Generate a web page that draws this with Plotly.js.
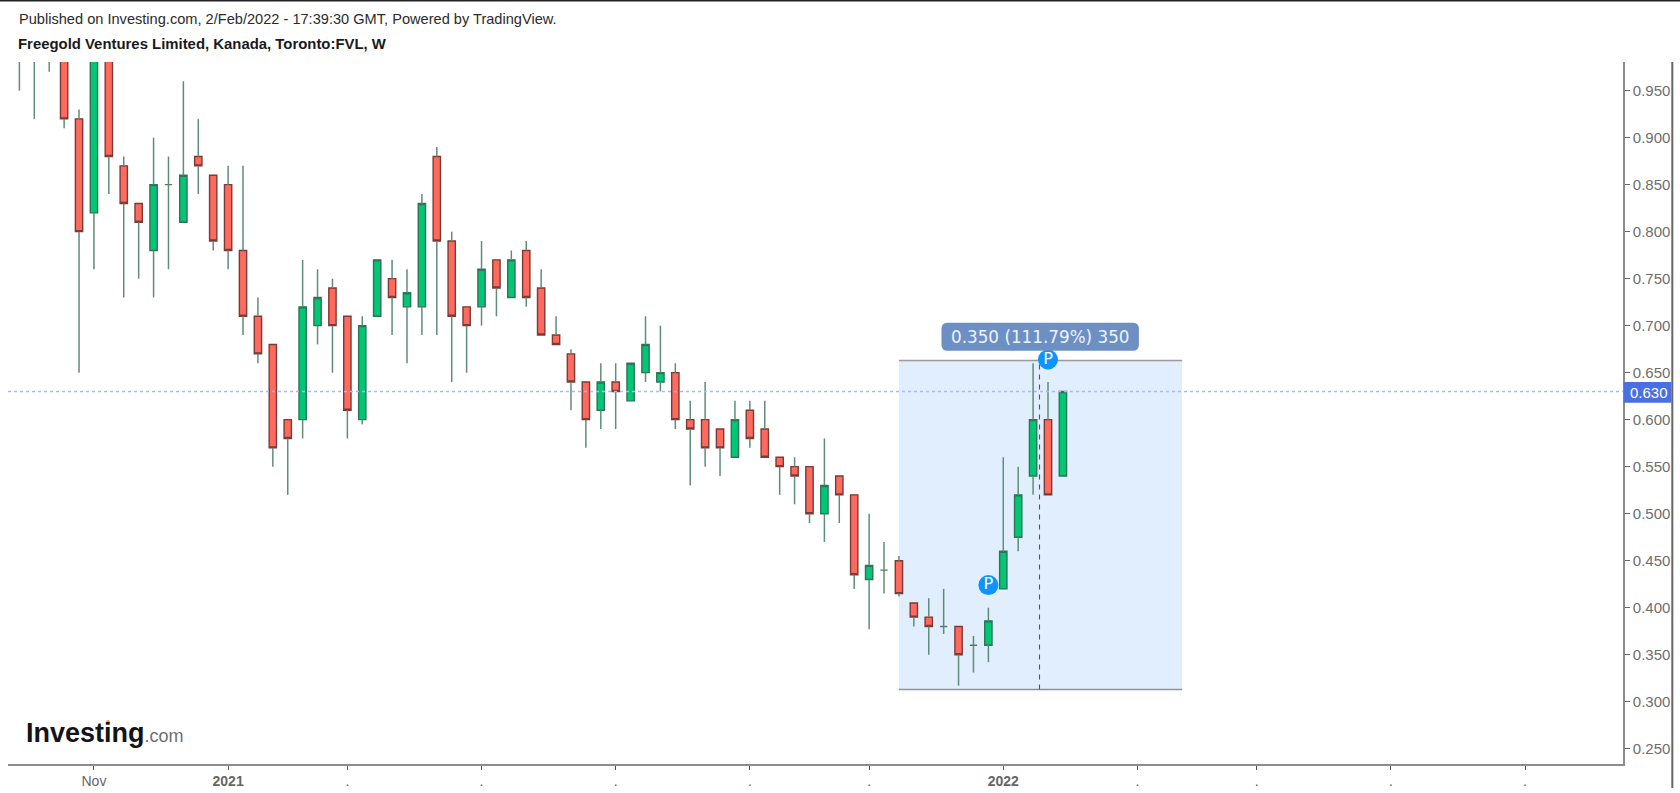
<!DOCTYPE html>
<html>
<head>
<meta charset="utf-8">
<script src="https://cdn.plot.ly/plotly-3.0.1.min.js"></script>
<style>html,body{margin:0;padding:0;background:#fff}#chart{width:1680px;height:793px}</style>
</head>
<body>
<div id="chart"></div>
<script>
const weeks = ["2020-09-28","2020-10-05","2020-10-12","2020-10-19","2020-10-26","2020-11-02","2020-11-09","2020-11-16","2020-11-23","2020-11-30",
"2020-12-07","2020-12-14","2020-12-21","2020-12-28","2021-01-04","2021-01-11","2021-01-18","2021-01-25","2021-02-01","2021-02-08",
"2021-02-15","2021-02-22","2021-03-01","2021-03-08","2021-03-15","2021-03-22","2021-03-29","2021-04-05","2021-04-12","2021-04-19",
"2021-04-26","2021-05-03","2021-05-10","2021-05-17","2021-05-24","2021-05-31","2021-06-07","2021-06-14","2021-06-21","2021-06-28",
"2021-07-05","2021-07-12","2021-07-19","2021-07-26","2021-08-02","2021-08-09","2021-08-16","2021-08-23","2021-08-30","2021-09-06",
"2021-09-13","2021-09-20","2021-09-27","2021-10-04","2021-10-11","2021-10-18","2021-10-25","2021-11-01","2021-11-08","2021-11-15",
"2021-11-22","2021-11-29","2021-12-06","2021-12-13","2021-12-20","2021-12-27","2022-01-03","2022-01-10","2022-01-17","2022-01-24","2022-01-31"];
const open = [1.03,1.04,1.02,1.02,0.92,0.82,1.02,0.87,0.83,0.78,0.85,0.81,0.88,0.86,0.85,0.78,0.71,0.68,0.60,0.60,0.70,0.74,0.71,0.60,0.71,0.75,0.72,0.72,0.88,0.79,0.72,0.72,0.77,0.73,0.78,0.74,0.69,0.67,0.64,0.61,0.64,0.62,0.65,0.64,0.65,0.60,0.60,0.59,0.56,0.61,0.59,0.56,0.55,0.55,0.50,0.54,0.52,0.43,0.44,0.45,0.405,0.39,0.38,0.38,0.36,0.36,0.42,0.475,0.54,0.60,0.54];
const close = [1.02,1.05,1.01,0.92,0.80,1.02,0.88,0.83,0.81,0.85,0.85,0.86,0.87,0.79,0.78,0.71,0.67,0.57,0.58,0.72,0.73,0.70,0.61,0.70,0.77,0.73,0.735,0.83,0.79,0.71,0.70,0.76,0.74,0.77,0.73,0.69,0.68,0.64,0.60,0.64,0.63,0.66,0.68,0.65,0.60,0.59,0.57,0.57,0.60,0.58,0.56,0.55,0.54,0.50,0.53,0.52,0.435,0.445,0.44,0.415,0.39,0.38,0.38,0.35,0.36,0.386,0.46,0.52,0.60,0.52,0.63];
const high = [1.06,1.07,1.05,1.04,0.93,1.04,1.04,0.88,0.83,0.90,0.88,0.96,0.92,0.86,0.87,0.87,0.73,0.68,0.60,0.77,0.76,0.75,0.71,0.71,0.77,0.77,0.76,0.84,0.89,0.80,0.72,0.79,0.77,0.78,0.79,0.76,0.71,0.675,0.64,0.66,0.66,0.66,0.71,0.70,0.66,0.62,0.64,0.59,0.62,0.62,0.62,0.56,0.56,0.55,0.58,0.54,0.52,0.50,0.47,0.455,0.405,0.41,0.42,0.38,0.37,0.40,0.56,0.55,0.66,0.64,0.63];
const low = [0.95,0.92,0.97,0.91,0.65,0.76,0.84,0.73,0.75,0.73,0.76,0.81,0.84,0.78,0.76,0.69,0.66,0.55,0.52,0.58,0.68,0.65,0.58,0.595,0.71,0.69,0.66,0.69,0.69,0.64,0.65,0.70,0.71,0.73,0.72,0.69,0.68,0.61,0.57,0.59,0.59,0.62,0.64,0.63,0.59,0.53,0.55,0.54,0.56,0.57,0.56,0.52,0.51,0.49,0.47,0.49,0.42,0.377,0.415,0.412,0.38,0.35,0.372,0.317,0.331,0.342,0.42,0.46,0.52,0.52,0.54];
const tickDates = ["2020-11-02","2021-01-04","2021-03-01","2021-05-03","2021-07-05","2021-09-06","2021-11-01","2022-01-03","2022-03-07","2022-05-02","2022-07-04","2022-09-05"];
const tickLabels = ["Nov","<b>2021</b>",".",".",".",".",".","<b>2022</b>",".",".",".","."];
const priceTicks = [0.25,0.30,0.35,0.40,0.45,0.50,0.55,0.60,0.65,0.70,0.75,0.80,0.85,0.90,0.95];
const lastPrice = 0.63;
const rangeLow = 0.313, rangeHigh = 0.663;
const rangeStart = "2021-11-15", rangeEnd = "2022-03-28", rangeMid = "2022-01-20";
const pivotDates = ["2021-12-27","2022-01-24"];
const pivotPrices = [0.424,0.664];
const rangeLabel = "0.350 (111.79%) 350";

const L=8,R=1622.7,T=62,B=764;
const px = x => (x-L)/(R-L), py = y => (B-y)/(B-T);

const wx=[],wy=[];
weeks.forEach((d,i)=>{
  const top=Math.max(open[i],close[i]),bot=Math.min(open[i],close[i]);
  if(high[i]>top){wx.push(d,d,null);wy.push(top,high[i],null);}
  if(low[i]<bot){wx.push(d,d,null);wy.push(low[i],bot,null);}
});
const idxBody=weeks.map((_,i)=>i).filter(i=>open[i]!==close[i]);
const idxDoji=weeks.map((_,i)=>i).filter(i=>open[i]===close[i]);
const pick=(a,idx)=>idx.map(i=>a[i]);
const bodyWidth=330000000;
const bodyTrace=(idx,up,down)=>({
  type:'candlestick',x:pick(weeks,idx),open:pick(open,idx),close:pick(close,idx),
  high:idx.map(i=>Math.max(open[i],close[i])),low:idx.map(i=>Math.min(open[i],close[i])),
  width:bodyWidth,whiskerwidth:0,showlegend:false,hoverinfo:'skip',
  increasing:{line:{color:up[0],width:1.4},fillcolor:up[1]},
  decreasing:{line:{color:down[0],width:1.4},fillcolor:down[1]}
});
const data=[
  {type:'scatter',mode:'lines',x:wx,y:wy,line:{color:'#5f8d7a',width:1.5},showlegend:false,hoverinfo:'skip',cliponaxis:true},
  bodyTrace(idxBody,['#2f7358','#00c774'],['#7c3a36','#ff6a5f']),
  bodyTrace(idxDoji,['#4d7d69','#4d7d69'],['#4d7d69','#4d7d69']),
  {type:'scatter',mode:'markers+text',x:pivotDates,y:pivotPrices,text:['P','P'],textposition:'middle center',
   textfont:{family:'DejaVu Sans, sans-serif',size:16,color:'#ffffff'},
   marker:{size:20,color:'#0f94fb',line:{width:0}},showlegend:false,hoverinfo:'skip'}
];
const greyAxis='#8c8c8c';
const layout={
  width:1680,height:793,margin:{l:L,r:1680-R,t:T,b:793-B,pad:0},
  paper_bgcolor:'#ffffff',plot_bgcolor:'#ffffff',showlegend:false,dragmode:false,
  font:{family:'Liberation Sans, Arial, sans-serif',color:'#6b6b6b',size:14},
  xaxis:{type:'date',range:["2020-09-22 15:30","2022-10-21"],rangeslider:{visible:false},
    tickmode:'array',tickvals:tickDates,ticktext:tickLabels,ticks:'outside',ticklen:4,tickwidth:1,tickcolor:'#555',
    tickfont:{size:14,color:'#666'},showgrid:false,zeroline:false,showline:true,linecolor:greyAxis,linewidth:1.6},
  yaxis:{side:'right',range:[0.2337,0.9805],tickmode:'array',tickvals:priceTicks,tickformat:'.3f',ticks:'outside',ticklen:5,tickwidth:1,tickcolor:'#666',
    tickfont:{size:15,color:'#6e6e6e'},showgrid:false,zeroline:false,showline:true,linecolor:greyAxis,linewidth:1.8},
  shapes:[
    {type:'rect',layer:'below',x0:rangeStart,x1:rangeEnd,y0:rangeLow,y1:rangeHigh,xref:'x',yref:'y',fillcolor:'#e1eefd',line:{width:0}},
    {type:'line',layer:'below',x0:rangeStart,x1:rangeEnd,y0:rangeHigh,y1:rangeHigh,xref:'x',yref:'y',line:{color:'#9a9a9a',width:1.6}},
    {type:'line',layer:'below',x0:rangeStart,x1:rangeEnd,y0:rangeLow,y1:rangeLow,xref:'x',yref:'y',line:{color:'#8f9296',width:1.6}},
    {type:'line',layer:'below',x0:rangeMid,x1:rangeMid,y0:rangeLow,y1:rangeHigh,xref:'x',yref:'y',line:{color:'#55585c',width:1.1,dash:'5px,5px'}},
    {type:'line',layer:'above',x0:0,x1:1,xref:'paper',y0:lastPrice,y1:lastPrice,yref:'y',line:{color:'#a9b9f7',width:1.5,dash:'dot'}},
    {type:'path',xref:'paper',yref:'paper',layer:'above',fillcolor:'#6d90c4',line:{width:0},
     path:(()=>{const x0=941.3,x1=1138.7,y0=322.7,y1=350.7,r=6;const X=v=>px(v),Y=v=>py(v);
       return `M${X(x0+r)},${Y(y0)} L${X(x1-r)},${Y(y0)} Q${X(x1)},${Y(y0)} ${X(x1)},${Y(y0+r)} L${X(x1)},${Y(y1-r)} Q${X(x1)},${Y(y1)} ${X(x1-r)},${Y(y1)} L${X(x0+r)},${Y(y1)} Q${X(x0)},${Y(y1)} ${X(x0)},${Y(y1-r)} L${X(x0)},${Y(y0+r)} Q${X(x0)},${Y(y0)} ${X(x0+r)},${Y(y0)} Z`;})()},
    {type:'rect',xref:'paper',yref:'paper',layer:'above',x0:px(1623.4),x1:px(1671),y0:py(382),y1:py(402.7),fillcolor:'#4a6fe3',line:{width:0}},
    {type:'line',xref:'paper',yref:'paper',layer:'above',x0:px(1672),x1:px(1672),y0:py(62),y1:py(788),line:{color:'#666666',width:2}},
    {type:'line',xref:'paper',yref:'paper',layer:'above',x0:px(0),x1:px(1680),y0:py(0.8),y1:py(0.8),line:{color:'#222222',width:1.6}},
    {type:'circle',xref:'paper',yref:'paper',layer:'above',x0:px(106),x1:px(110),y0:py(720),y1:py(724),fillcolor:'#f7a21b',line:{width:0}}
  ],
  annotations:[
    {xref:'paper',yref:'paper',x:px(16.5),y:py(19),xanchor:'left',yanchor:'middle',showarrow:false,align:'left',
     text:"Published on Investing.com, 2/Feb/2022 - 17:39:30 GMT, Powered by TradingView.",font:{size:14.6,color:'#2b2b2b'}},
    {xref:'paper',yref:'paper',x:px(16),y:py(44),xanchor:'left',yanchor:'middle',showarrow:false,align:'left',
     text:"<b>Freegold Ventures Limited, Kanada, Toronto:FVL, W</b>",font:{size:14.9,color:'#1a1a1a'}},
    {xref:'paper',yref:'paper',x:px(1040),y:py(336.5),xanchor:'center',yanchor:'middle',showarrow:false,
     text:rangeLabel,font:{family:'DejaVu Sans, sans-serif',size:16.8,color:'#eef3fb'}},
    {xref:'paper',yref:'paper',x:px(1669.5),y:py(392.6),xanchor:'right',yanchor:'middle',showarrow:false,
     text:lastPrice.toFixed(3),font:{size:15,color:'#ffffff'}},
    {xref:'paper',yref:'paper',x:px(24),y:py(732.5),xanchor:'left',yanchor:'middle',showarrow:false,
     text:'<b>Investing</b><span style="font-size:18px;color:#6f6f6f">.com</span>',font:{size:27,color:'#141414'}}
  ]
};
Plotly.newPlot('chart',data,layout,{displayModeBar:false,staticPlot:true});
</script>
</body>
</html>
